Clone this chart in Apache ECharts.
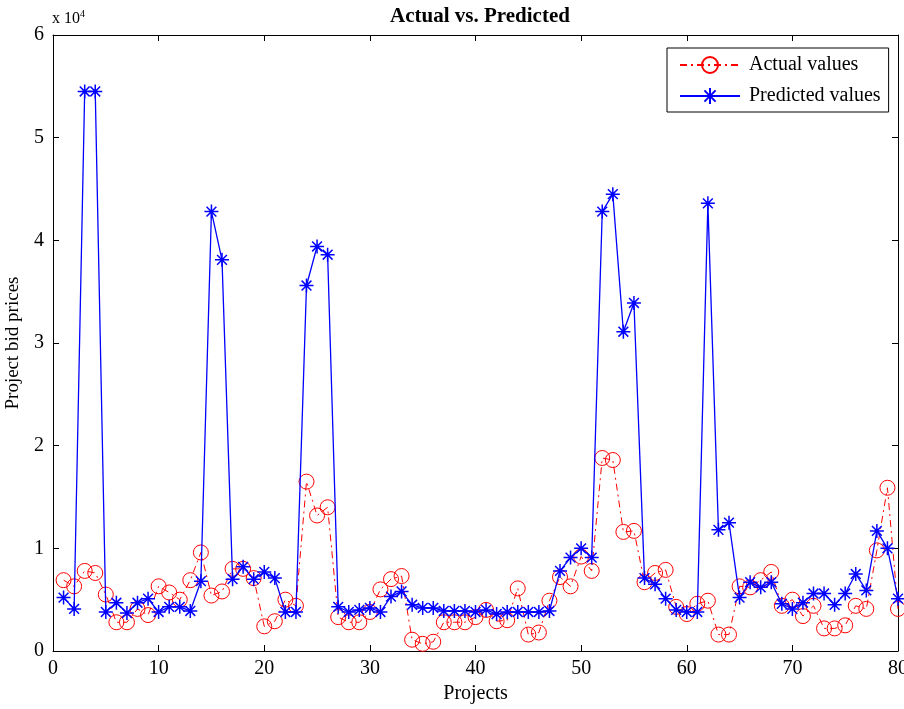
<!DOCTYPE html>
<html><head><meta charset="utf-8">
<script src="https://cdn.jsdelivr.net/npm/echarts@6/dist/echarts.min.js"></script>
<style>html,body{margin:0;padding:0;background:#fff}#c{width:904px;height:709px}</style>
</head><body><div id="c"></div>
<script>
var projects = [];
for (var i = 1; i <= 80; i++) projects.push(i);
var actualValues = [0.69,0.63,0.78,0.76,0.55,0.28,0.28,0.41,0.35,0.63,
  0.57,0.50,0.69,0.96,0.54,0.58,0.80,0.80,0.71,0.24,
  0.29,0.50,0.44,1.65,1.32,1.40,0.33,0.28,0.28,0.38,
  0.60,0.70,0.73,0.11,0.07,0.09,0.28,0.28,0.28,0.33,
  0.40,0.29,0.30,0.61,0.16,0.18,0.49,0.72,0.63,0.92,
  0.78,1.88,1.86,1.16,1.17,0.67,0.76,0.79,0.43,0.36,
  0.46,0.49,0.16,0.16,0.63,0.62,0.69,0.77,0.44,0.50,
  0.34,0.44,0.22,0.22,0.25,0.44,0.41,0.98,1.59,0.41];
var predictedValues = [0.52,0.41,5.45,5.45,0.38,0.47,0.37,0.47,0.51,0.38,
  0.43,0.43,0.39,0.68,4.28,3.81,0.70,0.82,0.70,0.77,
  0.71,0.38,0.38,3.56,3.94,3.86,0.43,0.38,0.40,0.42,
  0.38,0.53,0.58,0.45,0.42,0.42,0.39,0.39,0.39,0.38,
  0.40,0.36,0.38,0.38,0.38,0.38,0.39,0.78,0.91,1.00,
  0.91,4.28,4.45,3.11,3.39,0.71,0.65,0.51,0.40,0.38,
  0.38,4.36,1.18,1.25,0.52,0.67,0.62,0.67,0.46,0.41,
  0.47,0.56,0.56,0.45,0.56,0.75,0.59,1.17,1.00,0.51];
var xTicks = [0,10,20,30,40,50,60,70,80];
var yTicks = [0,1,2,3,4,5,6];

function pairs(v){ return projects.map(function(p,i){ return [p, v[i]]; }); }
var FONT = 'Liberation Serif';
var star = 'path://M0,-10L0,10M-10,0L10,0M-7,-7L7,7M-7,7L7,-7';

var chart = echarts.init(document.getElementById('c'), null, {renderer:'canvas'});
var axisCommon = {
  axisLine:{show:true,onZero:false,lineStyle:{color:'#000',width:1}},
  axisTick:{show:true,inside:true,length:6,lineStyle:{color:'#000'}},
  splitLine:{show:false}
};
chart.setOption({
  animation:false,
  backgroundColor:'#fff',
  title:{text:'Actual vs. Predicted',left:475,textAlign:'center',top:1,
    textStyle:{fontFamily:FONT,fontSize:21,fontWeight:'bold',color:'#000'}},
  graphic:[{type:'text',left:52,top:9,style:{
    text:'x 10{s|4}',fontFamily:FONT,fontSize:16,fill:'#000',
    rich:{s:{fontSize:10,verticalAlign:'top',padding:[0,0,9,0],fontFamily:FONT}}}}],
  legend:{orient:'vertical',left:667,top:48,
    itemWidth:60,itemHeight:20,itemGap:11,padding:[7,8,6,12],
    borderColor:'#000',borderWidth:1,backgroundColor:'#fff',
    textStyle:{fontFamily:FONT,fontSize:20,color:'#000',padding:[0,0,0,4]},
    data:['Actual values','Predicted values']},
  grid:{left:53,right:6,top:35,bottom:58,containLabel:false,outerBoundsMode:'none'},
  xAxis:[Object.assign({type:'value',min:xTicks[0],max:xTicks[xTicks.length-1],interval:10,
    name:'Projects',nameLocation:'middle',nameGap:32,
    nameTextStyle:{fontFamily:FONT,fontSize:20,color:'#000'},
    axisLabel:{fontFamily:FONT,fontSize:20,color:'#000',margin:8}},axisCommon),
    Object.assign({type:'value',position:'top',min:0,max:80,interval:10,axisLabel:{show:false}},axisCommon)],
  yAxis:[Object.assign({type:'value',min:yTicks[0],max:yTicks[yTicks.length-1],interval:1,
    name:'Project bid prices',nameLocation:'middle',nameGap:30,
    nameTextStyle:{fontFamily:FONT,fontSize:19,color:'#000'},
    axisLabel:{fontFamily:FONT,fontSize:20,color:'#000',margin:9}},axisCommon),
    Object.assign({type:'value',position:'right',min:0,max:6,interval:1,axisLabel:{show:false}},axisCommon)],
  series:[
    {name:'Actual values',type:'line',data:pairs(actualValues),
      symbol:'circle',symbolSize:15,showAllSymbol:true,
      lineStyle:{color:'#ff0000',width:1,type:[7,4,2,4]},
      itemStyle:{color:'rgba(0,0,0,0)',borderColor:'#ff0000',borderWidth:1},z:2},
    {name:'Predicted values',type:'line',data:pairs(predictedValues),
      symbol:star,symbolSize:14,showAllSymbol:true,
      lineStyle:{color:'#0000ff',width:1.3},
      itemStyle:{color:'rgba(0,0,0,0)',borderColor:'#0000ff',borderWidth:1.5},z:3}
  ]
});
</script></body></html>
